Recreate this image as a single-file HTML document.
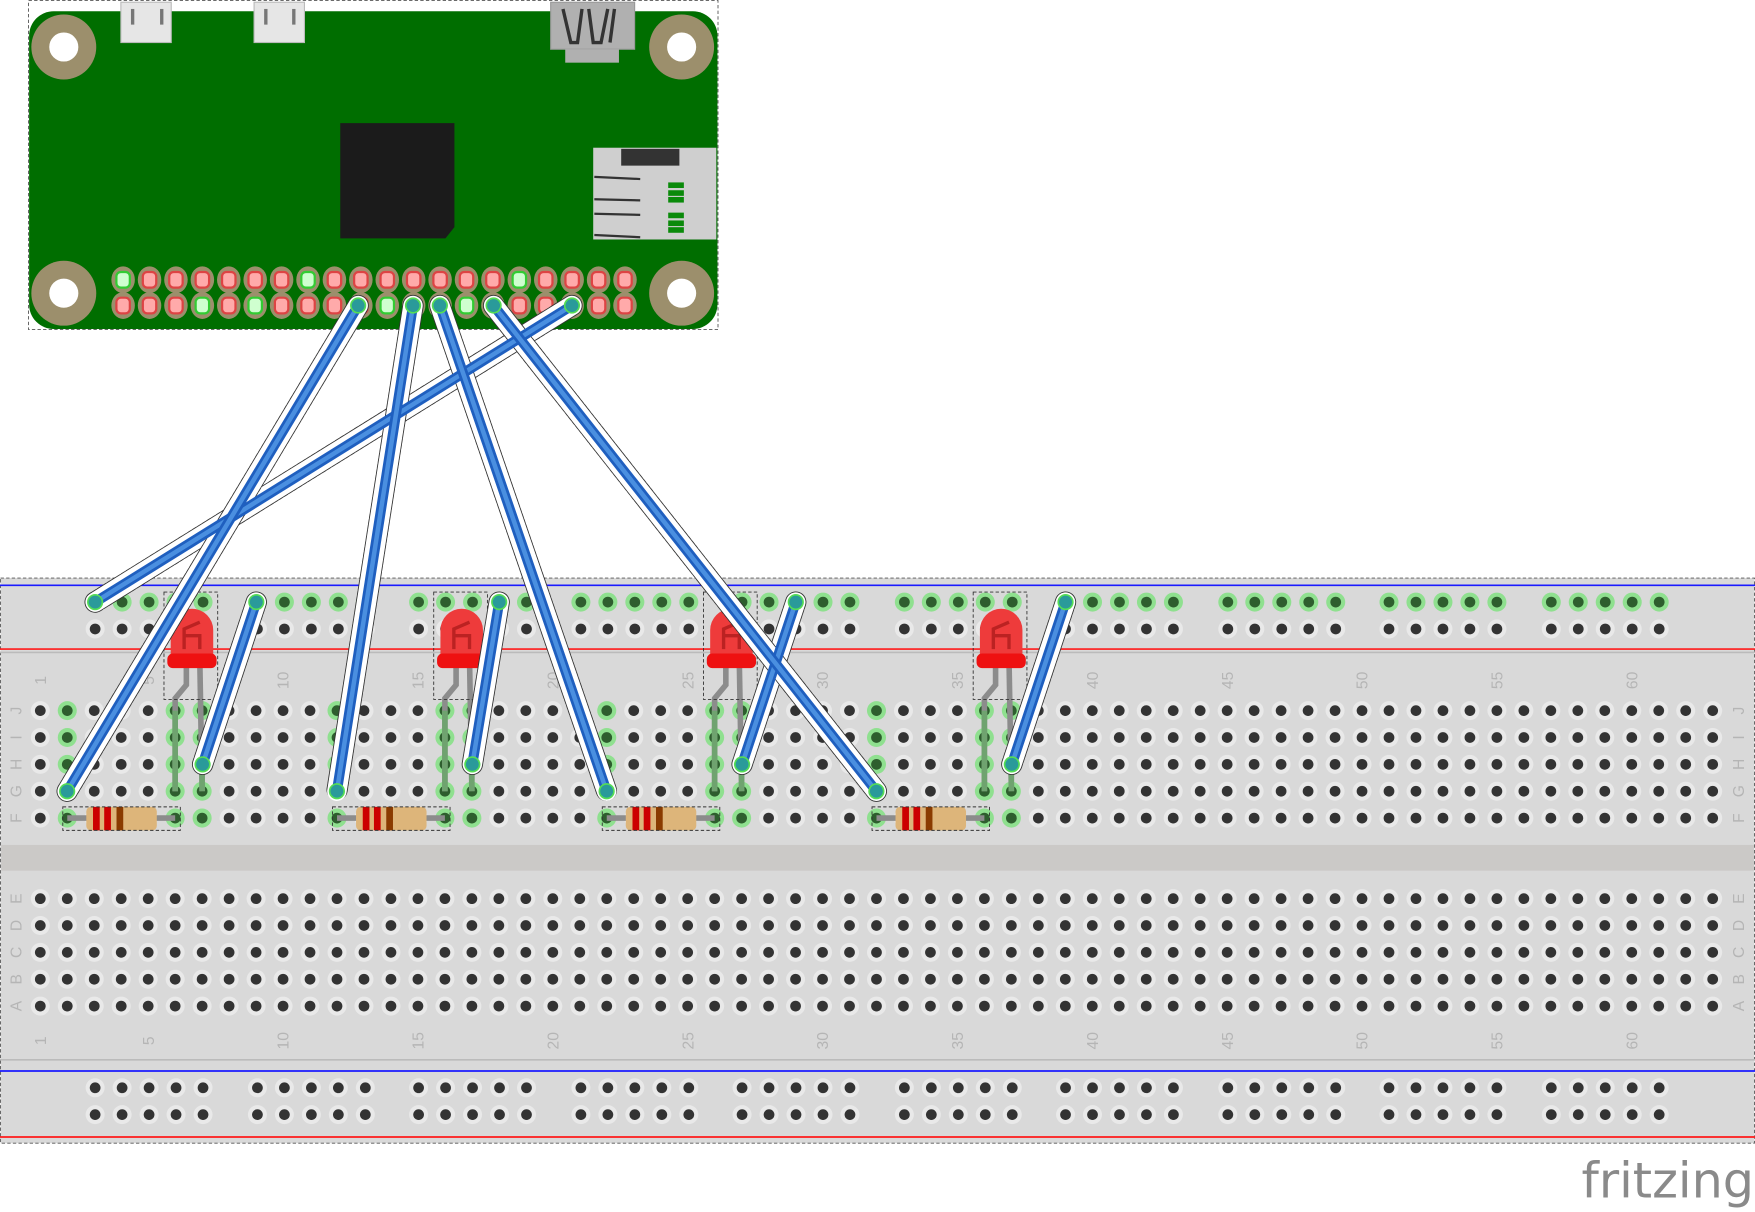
<!DOCTYPE html>
<html><head><meta charset="utf-8">
<style>html,body{margin:0;padding:0;background:#fff;}svg{display:block;}</style></head>
<body>
<svg id="s" width="1755" height="1212" viewBox="0 0 1568 1083" preserveAspectRatio="none" xmlns="http://www.w3.org/2000/svg" font-family="Liberation Sans, sans-serif">
<rect width="1568" height="1083" fill="#fff"/>
<rect x="25.5" y="0.5" width="616" height="294" fill="none" stroke="#555" stroke-dasharray="3,2" stroke-width="0.8"/>
<rect x="26" y="10" width="615" height="284" rx="22" fill="#006e00"/>
<g fill="#e6e6e6" stroke="#bbb" stroke-width="1">
<rect x="108" y="2" width="45" height="36"/>
<rect x="227" y="2" width="45" height="36"/>
</g>
<g fill="#777"><rect x="117" y="8" width="3" height="14"/><rect x="143" y="8" width="3" height="14"/><rect x="236" y="8" width="3" height="14"/><rect x="261" y="8" width="3" height="14"/></g>
<rect x="492" y="2" width="75" height="42" fill="#b0b0b0" stroke="#999"/>
<rect x="505" y="44" width="48" height="12" fill="#b0b0b0"/>
<path d="M503 8 L510 38 L516 38 L520 8 M526 8 L530 38 L537 38 L543 8 M549 8 L545 38" stroke="#333" stroke-width="3" fill="none"/>
<path d="M304 110 H406 V203 L398 213 H304 Z" fill="#1b1b1b"/>
<rect x="530" y="132" width="110" height="82" fill="#cfcfcf"/>
<rect x="555" y="133" width="52" height="15" fill="#333"/>
<g stroke="#333" stroke-width="2"><line x1="531" y1="158" x2="572" y2="160"/><line x1="531" y1="178" x2="572" y2="179"/><line x1="531" y1="191" x2="572" y2="192"/><line x1="531" y1="210" x2="572" y2="212"/></g>
<g fill="#0a8a0a"><rect x="597" y="163" width="14" height="5"/><rect x="597" y="170" width="14" height="5"/><rect x="597" y="176" width="14" height="5"/><rect x="597" y="190" width="14" height="5"/><rect x="597" y="197" width="14" height="5"/><rect x="597" y="203" width="14" height="5"/></g>
<g id="holes"></g>
<rect x="0.5" y="516.5" width="1567" height="505" fill="#d9d9d9" stroke="#555" stroke-dasharray="3,2" stroke-width="0.8"/>
<rect x="1" y="755" width="1566" height="23" fill="#cbc9c7"/>
<line x1="0" y1="523" x2="1568" y2="523" stroke="#1a1aff" stroke-width="1.5"/>
<line x1="0" y1="580" x2="1568" y2="580" stroke="#ff1a1a" stroke-width="1.5"/>
<line x1="0" y1="583" x2="1568" y2="583" stroke="#bbb" stroke-width="1.5"/>
<line x1="0" y1="947" x2="1568" y2="947" stroke="#bbb" stroke-width="1.5"/>
<line x1="0" y1="957" x2="1568" y2="957" stroke="#1a1aff" stroke-width="1.5"/>
<line x1="0" y1="1016" x2="1568" y2="1016" stroke="#ff1a1a" stroke-width="1.5"/>
<g id="bb"></g>
<g id="parts"></g>
<g id="wires"></g>
<text x="1413" y="1070" font-size="44" fill="#8a8a8a" font-family="DejaVu Sans, sans-serif">fritzing</text>
</svg>
<script>
(function(){
var NS="http://www.w3.org/2000/svg";
function el(p,t,a){var e=document.createElementNS(NS,t);for(var k in a)e.setAttribute(k,a[k]);p.appendChild(e);return e;}
var H=document.getElementById('holes');
[[57,42],[609,42],[57,262],[609,262]].forEach(function(c){el(H,'circle',{cx:c[0],cy:c[1],r:29,fill:'#9c8f6c'});el(H,'circle',{cx:c[0],cy:c[1],r:13,fill:'#fff'});});
var gt=[0,7,15], gb=[3,5,10,13];
for(var r=0;r<2;r++)for(var i=0;i<20;i++){var x=110+i*23.6,y=r?273:250;var g=(r?gb:gt).indexOf(i)>=0;
el(H,'ellipse',{cx:x,cy:y,rx:10.5,ry:12,fill:'#9c8f6c'});el(H,'rect',{x:x-6,y:y-7,width:12,height:14,rx:4,fill:g?'#cfffcf':'#ffaaaa',stroke:g?'#3c3':'#d44','stroke-width':2});}
var B=document.getElementById('bb');
function hole(x,y,green){el(B,'circle',{cx:x,cy:y,r:8.5,fill:green?'#8fe08f':'#e9e9e9'});el(B,'circle',{cx:x,cy:y,r:4.8,fill:green?'#2e5e2e':'#333'});}
var gx=[85,230,374,519,663,808,952,1097,1241,1386];
gx.forEach(function(g){for(var k=0;k<5;k++){var x=g+k*24.1;hole(x,538,true);hole(x,562,false);hole(x,972,false);hole(x,996,false);}});
var gc=[2,6,7,12,16,17,22,26,27,32,36,37];
var rowsTop=[635,659,683,707,731],rowsBot=[803,827,851,875,899];
for(var c=1;c<=63;c++){var cx0=36+(c-1)*24.1;var gr=gc.indexOf(c)>=0;
 for(var j=0;j<5;j++){hole(cx0,rowsTop[j],gr);hole(cx0,rowsBot[j],false);}}
function txt(x,y,s){var t=el(B,'text',{x:0,y:0,'font-size':14,fill:'#b5b5b5',transform:'translate('+x+','+y+') rotate(-90)','text-anchor':'middle'});t.textContent=s;}
[1,5,10,15,20,25,30,35,40,45,50,55,60].forEach(function(n){var x=36+(n-1)*24.1+5;txt(x,608,n);txt(x,930,n);});
var L1=['J','I','H','G','F'],L2=['E','D','C','B','A'];
L1.forEach(function(s,i){txt(19,rowsTop[i],s);txt(1558,rowsTop[i],s);});L2.forEach(function(s,i){txt(19,rowsBot[i],s);txt(1558,rowsBot[i],s);});
var P=document.getElementById('parts');
[0,10,20,30].forEach(function(o){
 var c1=36+(5+o)*24.1, c2=c1+24.1, cx=c1+15;
 el(P,'path',{d:'M'+(cx-5)+' 595 V612 L'+c1+' 624 V707',stroke:'#8c8c8c','stroke-width':5,fill:'none'});
 el(P,'line',{x1:c2-2,y1:595,x2:c2,y2:707,stroke:'#8c8c8c','stroke-width':5});
 el(P,'line',{x1:c1,y1:635,x2:c1,y2:707,stroke:'#6fa36f','stroke-width':5});
 el(P,'line',{x1:c2,y1:690,x2:c2,y2:707,stroke:'#6fa36f','stroke-width':5});
 el(P,'rect',{x:c1-10,y:529,width:48,height:96,fill:'none',stroke:'#333','stroke-dasharray':'3,2','stroke-width':0.8});
 el(P,'path',{d:'M'+(cx-19)+' 592 V563 A19 19 0 0 1 '+(cx+19)+' 563 V592 Z',fill:'#ee3b3b'});
 el(P,'rect',{x:cx-22,y:584,width:44,height:13,rx:5,fill:'#e11'});
 el(P,'path',{d:'M'+(cx-7)+' 580 V562 L'+(cx+7)+' 556 M'+(cx-7)+' 568 L'+(cx+7)+' 568 V580',stroke:'#b22','stroke-width':3,fill:'none'});
 var r1=36+(1+o)*24.1, r2=r1+4*24.1;
 el(P,'line',{x1:r1,y1:731,x2:r2,y2:731,stroke:'#8c8c8c','stroke-width':5});
 el(P,'rect',{x:r1+17,y:721,width:63,height:21,rx:4,fill:'#ddb57a'});
 [23,33,44].forEach(function(d,i){el(P,'rect',{x:r1+d,y:721,width:6,height:21,fill:i<2?'#c00':'#8a3b00'});});
 el(P,'rect',{x:r1-4,y:721,width:105,height:21,fill:'none',stroke:'#333','stroke-dasharray':'3,2','stroke-width':0.8});
});
var W=document.getElementById('wires');
var ws=[[511,273,85,538],[320,273,60,707],[229,538,181,683],[369,273,301,707],[446,538,422,683],[393,273,542,707],[711,538,663,683],[441,273,783,707],[952,538,904,683]];
ws.forEach(function(w){
el(W,'line',{x1:w[0],y1:w[1],x2:w[2],y2:w[3],stroke:'#333','stroke-width':19,'stroke-linecap':'round','stroke-dasharray':'3,2'});
el(W,'line',{x1:w[0],y1:w[1],x2:w[2],y2:w[3],stroke:'#fff','stroke-width':17.4,'stroke-linecap':'round'});});
ws.forEach(function(w){el(W,'line',{x1:w[0],y1:w[1],x2:w[2],y2:w[3],stroke:'#1f5fbf','stroke-width':9,'stroke-linecap':'round'});
el(W,'line',{x1:w[0],y1:w[1],x2:w[2],y2:w[3],stroke:'#4a8fe0','stroke-width':4,'stroke-linecap':'round'});
[[w[0],w[1]],[w[2],w[3]]].forEach(function(p){el(W,'circle',{cx:p[0],cy:p[1],r:6.5,fill:'#2a9a9a',stroke:'#5d5','stroke-width':1.5});});});
})();
</script>
</body></html>
